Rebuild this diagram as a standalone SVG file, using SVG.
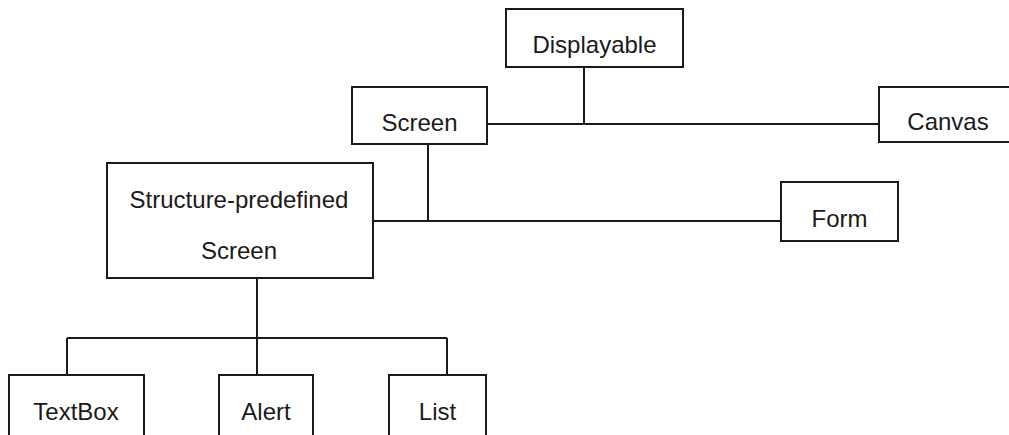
<svg xmlns="http://www.w3.org/2000/svg" width="1009" height="435" viewBox="0 0 1009 435">
<style>
.box{fill:#fff;stroke:#1a1a1a;stroke-width:2}
.lbl{font-family:"Liberation Sans",Arial,sans-serif;font-size:24px;fill:#1a1a1a;text-anchor:middle}
.conn line{stroke:#1a1a1a;stroke-width:2}
</style>
<rect width="1009" height="435" fill="#fff"/>
<g id="connectors" class="conn">
<line x1="584" y1="67" x2="584" y2="124"/>
<line x1="487" y1="124" x2="879" y2="124"/>
<line x1="428" y1="144" x2="428" y2="221"/>
<line x1="373" y1="221" x2="781" y2="221"/>
<line x1="257" y1="278" x2="257" y2="375"/>
<line x1="67" y1="338" x2="447" y2="338"/>
<line x1="67" y1="338" x2="67" y2="375"/>
<line x1="447" y1="338" x2="447" y2="375"/>
</g>
<g id="displayable"><rect class="box" x="506" y="9" width="177" height="58"/><text class="lbl" x="594.5" y="53">Displayable</text></g>
<g id="screen"><rect class="box" x="352" y="87" width="135" height="57"/><text class="lbl" x="419.5" y="131">Screen</text></g>
<g id="canvas"><rect class="box" x="879" y="87" width="138" height="55"/><text class="lbl" x="948" y="130">Canvas</text></g>
<g id="structure"><rect class="box" x="107" y="163" width="266" height="115"/><text class="lbl" x="239" y="208">Structure-predefined</text><text class="lbl" x="239" y="259">Screen</text></g>
<g id="form"><rect class="box" x="781" y="182" width="117" height="59"/><text class="lbl" x="839.5" y="227">Form</text></g>
<g id="textbox"><rect class="box" x="9" y="375" width="135" height="70"/><text class="lbl" x="76" y="420">TextBox</text></g>
<g id="alert"><rect class="box" x="219" y="375" width="94" height="70"/><text class="lbl" x="266" y="420">Alert</text></g>
<g id="list"><rect class="box" x="389" y="375" width="97" height="70"/><text class="lbl" x="437.5" y="420">List</text></g>
</svg>
